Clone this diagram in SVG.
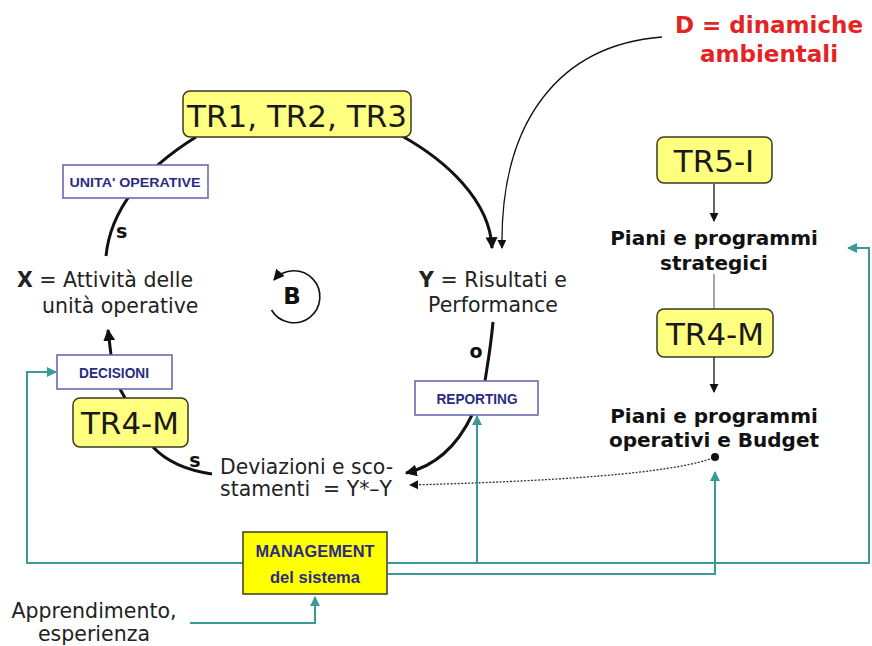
<svg xmlns="http://www.w3.org/2000/svg" width="872" height="646" viewBox="0 0 872 646">
  <style>
    .ybox { fill: #ffff80; stroke: #3a3a22; stroke-width: 1.5; }
    .tr { font-family: "DejaVu Sans", Verdana, sans-serif; font-size: 31px; fill: #1a1a1a; text-anchor: middle; }
    .lbox { fill: #ffffff; stroke: #6a6ab4; stroke-width: 1.6; }
    .lt { font-family: "Liberation Sans Narrow", "Liberation Sans", Arial, sans-serif; font-weight: bold; fill: #2b2b82; text-anchor: middle; }
    .txt { font-family: "DejaVu Sans", Verdana, sans-serif; font-size: 20.5px; fill: #222222; }
    .bt { font-family: "DejaVu Sans", Verdana, sans-serif; font-weight: bold; fill: #111111; }
    .red { font-family: "DejaVu Sans", Verdana, sans-serif; font-weight: bold; font-size: 23px; fill: #e42424; text-anchor: middle; }
    .loop { fill: none; stroke: #111111; stroke-width: 3; }
    .thin { fill: none; stroke: #111111; stroke-width: 1.3; }
    .teal { fill: none; stroke: #3a9a9a; stroke-width: 2; }
  </style>
  <defs>
    <marker id="ah" viewBox="0 0 10 10" refX="9" refY="5" markerWidth="4" markerHeight="4" orient="auto" markerUnits="strokeWidth">
      <path d="M0,0 L10,5 L0,10 z" fill="#111111"/>
    </marker>
    <marker id="ahs" viewBox="0 0 10 10" refX="9" refY="5" markerWidth="7" markerHeight="7" orient="auto" markerUnits="strokeWidth">
      <path d="M0,0 L10,5 L0,10 z" fill="#111111"/>
    </marker>
    <marker id="aht" viewBox="0 0 10 10" refX="9" refY="5" markerWidth="5" markerHeight="5" orient="auto" markerUnits="strokeWidth">
      <path d="M0,0 L10,5 L0,10 z" fill="#3a9a9a"/>
    </marker>
  </defs>

  <rect width="872" height="646" fill="#ffffff"/>

  <!-- connectors -->
  <g id="connectors">
    <!-- balancing loop -->
    <path class="loop" d="M106,256 C110,215 135,175 196,137"/>
    <path class="loop" d="M402,136 C445,160 490,200 492,248" marker-end="url(#ah)"/>
    <path class="loop" d="M493,322 C491,345 488,362 485,381"/>
    <path class="loop" d="M472,415 C460,440 440,465 406,473" marker-end="url(#ah)"/>
    <path class="loop" d="M212,474 C185,470 165,460 153,447"/>
    <path class="loop" d="M120,389 L125,398"/>
    <path class="loop" d="M111,355 L108,330" marker-end="url(#ah)"/>
    <!-- environmental dynamics -->
    <path class="thin" d="M662,37 C560,45 500,120 502,248" marker-end="url(#ahs)"/>
    <!-- B loop symbol -->
    <path fill="none" stroke="#111111" stroke-width="1.6" d="M271.5,310 A26,26 0 1 0 274,280" marker-end="url(#ahs)"/>
    <!-- planning column -->
    <path class="thin" d="M714,184 L714,221" marker-end="url(#ahs)"/>
    <path fill="none" stroke="#888888" stroke-width="1.5" d="M714,274 L714,309"/>
    <path class="thin" d="M714,357 L714,392" marker-end="url(#ahs)"/>
    <path fill="none" stroke="#333333" stroke-width="1.3" stroke-dasharray="2,1.5" d="M713,458 C680,470 600,480 410,485" marker-end="url(#ahs)"/>
    <circle cx="715" cy="457" r="4" fill="#111111"/>
    <!-- management feedback lines -->
    <path class="teal" d="M243,563 L27,563 L27,372 L56,372" marker-end="url(#aht)"/>
    <path class="teal" d="M388,563 L869,563 L869,248 L848,248" marker-end="url(#aht)"/>
    <path class="teal" d="M477,563 L477,416" marker-end="url(#aht)"/>
    <path class="teal" d="M388,574 L715,574 L715,472" marker-end="url(#aht)"/>
    <path class="teal" d="M190,623 L315,623 L315,597" marker-end="url(#aht)"/>
  </g>

  <!-- nodes -->
  <g id="tr123">
    <rect class="ybox" x="183" y="91" width="228" height="46" rx="7"/>
    <text class="tr" x="297" y="127">TR1, TR2, TR3</text>
  </g>

  <g id="unita-operative">
    <rect class="lbox" x="63" y="165" width="145" height="33"/>
    <text class="lt" x="135" y="187" font-size="13" textLength="131" lengthAdjust="spacingAndGlyphs">UNITA' OPERATIVE</text>
  </g>
  <text class="bt" x="116" y="238" font-size="19">s</text>

  <g id="x-attivita">
    <text class="txt" x="17" y="287"><tspan font-weight="bold">X</tspan> = Attività delle</text>
    <text class="txt" x="42" y="313">unità operative</text>
  </g>

  <g id="b-loop">
    <text class="bt" x="292" y="304" font-size="23" text-anchor="middle">B</text>
  </g>

  <g id="y-risultati">
    <text class="txt" x="493" y="287" text-anchor="middle"><tspan font-weight="bold">Y</tspan> = Risultati e</text>
    <text class="txt" x="493" y="312" text-anchor="middle">Performance</text>
  </g>
  <text class="bt" x="476" y="358" font-size="19" text-anchor="middle">o</text>

  <g id="reporting">
    <rect class="lbox" x="415" y="381" width="123" height="34"/>
    <text class="lt" x="477" y="404" font-size="14" textLength="81" lengthAdjust="spacingAndGlyphs">REPORTING</text>
  </g>

  <g id="deviazioni">
    <text class="txt" x="220" y="474" textLength="173" lengthAdjust="spacingAndGlyphs">Deviazioni e sco-</text>
    <text class="txt" x="220" y="496" textLength="172" lengthAdjust="spacingAndGlyphs">stamenti&#160; = Y*–Y</text>
  </g>
  <text class="bt" x="195" y="467" font-size="19" text-anchor="middle">s</text>

  <g id="tr4m-left">
    <rect class="ybox" x="73" y="398" width="115" height="49" rx="7"/>
    <text class="tr" x="130" y="434">TR4-M</text>
  </g>

  <g id="decisioni">
    <rect class="lbox" x="57" y="355" width="115" height="34"/>
    <text class="lt" x="114" y="378" font-size="14" textLength="70" lengthAdjust="spacingAndGlyphs">DECISIONI</text>
  </g>

  <g id="dinamiche">
    <text class="red" x="769" y="33">D = dinamiche</text>
    <text class="red" x="769" y="62">ambientali</text>
  </g>

  <g id="tr5i">
    <rect class="ybox" x="657" y="137" width="115" height="46" rx="7"/>
    <text class="tr" x="714" y="172">TR5-I</text>
  </g>

  <g id="piani-strategici">
    <text class="bt" x="714" y="245" font-size="20" text-anchor="middle">Piani e programmi</text>
    <text class="bt" x="714" y="270" font-size="20" text-anchor="middle">strategici</text>
  </g>

  <g id="tr4m-right">
    <rect class="ybox" x="657" y="309" width="116" height="48" rx="7"/>
    <text class="tr" x="715" y="345">TR4-M</text>
  </g>

  <g id="piani-operativi">
    <text class="bt" x="714" y="423" font-size="20" text-anchor="middle">Piani e programmi</text>
    <text class="bt" x="714" y="447" font-size="20" text-anchor="middle">operativi e Budget</text>
  </g>

  <g id="management">
    <rect x="243" y="532" width="144" height="62" fill="#ffff00" stroke="#3a3a22" stroke-width="1.5"/>
    <text class="lt" x="315" y="557" font-size="16" textLength="119" lengthAdjust="spacingAndGlyphs">MANAGEMENT</text>
    <text class="lt" x="315" y="583" font-size="17" textLength="90" lengthAdjust="spacingAndGlyphs">del sistema</text>
  </g>

  <g id="apprendimento">
    <text class="txt" x="94" y="618" text-anchor="middle">Apprendimento,</text>
    <text class="txt" x="94" y="641" text-anchor="middle">esperienza</text>
  </g>
</svg>
